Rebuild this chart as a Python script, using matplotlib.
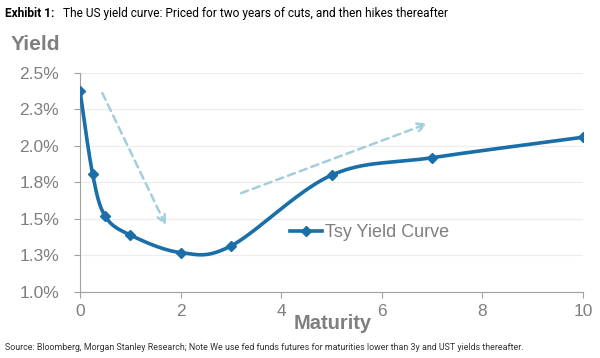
import matplotlib
matplotlib.use("Agg")
import matplotlib.pyplot as plt
import numpy as np

plt.rcParams["font.family"] = ["Liberation Sans", "DejaVu Sans"]

# data
maturity = [0, 0.25, 0.5, 1, 2, 3, 5, 7, 10]
yield_pct = [2.38, 1.81, 1.52, 1.39, 1.27, 1.315, 1.80, 1.92, 2.06]
yticks = [1.0, 1.25, 1.5, 1.75, 2.0, 2.25, 2.5]
ytick_labels = ["1.0%", "1.3%", "1.5%", "1.8%", "2.0%", "2.3%", "2.5%"]
xticks = [0, 2, 4, 6, 8, 10]

# trend arrows (start, end) in data coordinates
arrow_down = ((0.42, 2.38), (1.73, 1.44))
arrow_up = ((3.15, 1.67), (6.96, 2.16))

LINE = "#1a6fa8"
ARROW = "#a3cedc"
GREY = "#7f7f7f"


def smooth(xs, ys, n=40):
    # Excel-like smoothed line: Catmull-Rom through the points
    xs = np.asarray(xs, float)
    ys = np.asarray(ys, float)
    px = np.concatenate([[xs[0]], xs, [xs[-1]]])
    py = np.concatenate([[ys[0]], ys, [ys[-1]]])
    out_x, out_y = [], []
    t = np.linspace(0, 1, n)
    for i in range(1, len(px) - 2):
        p0, p1, p2, p3 = (np.array([px[j], py[j]]) for j in range(i - 1, i + 3))
        c1 = p1 + (p2 - p0) / 6
        c2 = p2 - (p3 - p1) / 6
        b = ((1 - t) ** 3)[:, None] * p1 + (3 * (1 - t) ** 2 * t)[:, None] * c1 \
            + (3 * (1 - t) * t ** 2)[:, None] * c2 + (t ** 3)[:, None] * p2
        out_x.extend(b[:, 0])
        out_y.extend(b[:, 1])
    return np.array(out_x), np.array(out_y)


fig = plt.figure(figsize=(6, 3.58), dpi=100)
ax = fig.add_axes([0.1333, 0.1844, 0.8384, 0.6117])

sx, sy = smooth(maturity, yield_pct)
ax.plot(sx, sy, color=LINE, linewidth=2.6, zorder=3)
ax.plot(maturity, yield_pct, linestyle="none", marker="D", markersize=5.5,
        color=LINE, zorder=4)
ax.plot([], [], color=LINE, linewidth=2.6, marker="D", markersize=5.5,
        label="Tsy Yield Curve")

for (x0, y0), (x1, y1) in (arrow_down, arrow_up):
    ax.annotate("", xy=(x1, y1), xytext=(x0, y0),
                arrowprops=dict(arrowstyle="->", color=ARROW, lw=1.8,
                                linestyle=(0, (3, 2)), mutation_scale=14))

ax.set_xlim(0, 10)
ax.set_ylim(1.0, 2.5)
ax.set_xticks(xticks)
ax.set_yticks(yticks)
ax.set_yticklabels(ytick_labels)
ax.tick_params(axis="both", colors="#a0a0a0", labelcolor=GREY, labelsize=12.5,
               length=4, direction="out")
ax.tick_params(axis="x", pad=5)
ax.tick_params(axis="y", pad=11)
ax.grid(axis="y", color="#ececec", linewidth=0.8)
ax.set_axisbelow(True)
for s in ("top", "right"):
    ax.spines[s].set_visible(False)
for s in ("left", "bottom"):
    ax.spines[s].set_color("#a0a0a0")

ax.legend(loc="center", bbox_to_anchor=(0.575, 0.27), frameon=False, fontsize=13,
          labelcolor=GREY, handlelength=1.8, handletextpad=0.15)

fig.text(0.555, 0.097, "Maturity", fontsize=14.5, fontweight="bold", color=GREY,
         ha="center", va="center")
fig.text(0.018, 0.877, "Yield", fontsize=15, fontweight="bold", color=GREY,
         ha="left", va="center")

fig.text(0.008, 0.963, "Exhibit 1:", fontsize=8.6, fontweight="bold",
         family="Roboto", ha="left", va="center")
fig.text(0.105, 0.963, "The US yield curve: Priced for two years of cuts, and then hikes thereafter",
         fontsize=8.6, family="Roboto", ha="left", va="center")
fig.text(0.008, 0.028,
         "Source: Bloomberg, Morgan Stanley Research; Note We use fed funds futures "
         "for maturities lower than 3y and UST yields thereafter.",
         fontsize=6.4, family="Roboto", color="#333333", ha="left", va="center")

fig.savefig("out.png", dpi=100)
